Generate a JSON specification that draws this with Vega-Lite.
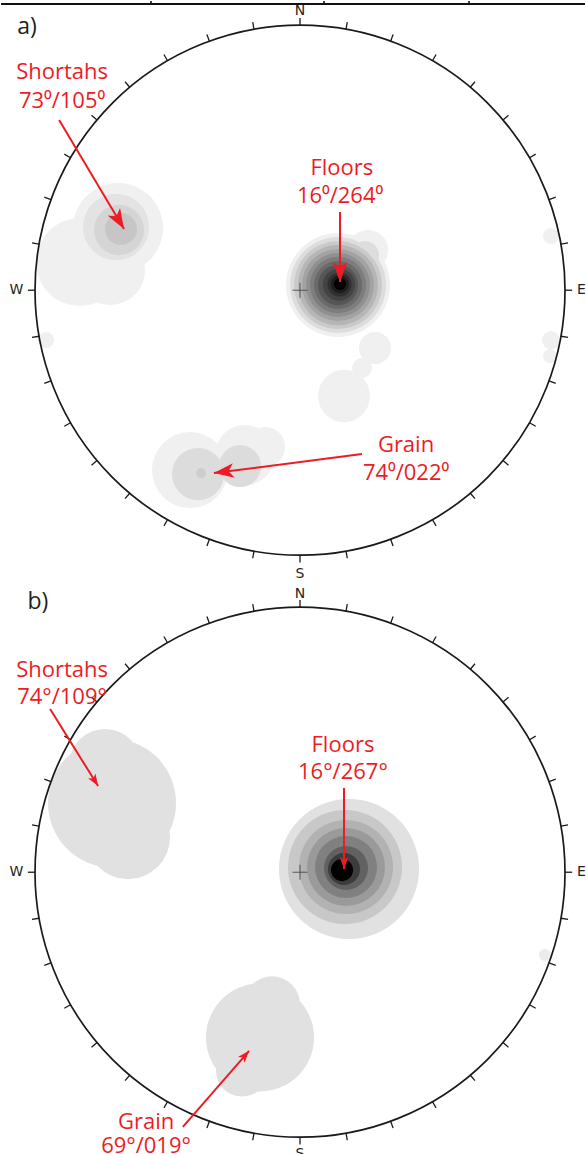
{
  "$schema": "https://vega.github.io/schema/vega-lite/v6.json",
  "padding": 0,
  "spacing": 0,
  "config": {"view": {"stroke": null}},
  "data": {"values": [
    {"panel":"a","kind":"vline","x":-0.5623,"y":1.091,"y2":1.077},
    {"panel":"a","kind":"vline","x":0.0906,"y":1.091,"y2":1.077},
    {"panel":"a","kind":"vline","x":0.6377,"y":1.091,"y2":1.077},
    {"panel":"a","kind":"hline","x":-1.128,"y":1.080,"x2":1.0755},

    {"panel":"a","kind":"blob","x":0.1434,"y":0.0196,"r":0.1962,"d":0},
    {"panel":"a","kind":"blob","x":0.2566,"y":0.1517,"r":0.0755,"d":0},
    {"panel":"a","kind":"blob","x":0.2830,"y":-0.2181,"r":0.0604,"d":0},
    {"panel":"a","kind":"blob","x":0.2340,"y":-0.2936,"r":0.0377,"d":0},
    {"panel":"a","kind":"blob","x":0.1660,"y":-0.3992,"r":0.0981,"d":0},
    {"panel":"a","kind":"blob","x":0.1434,"y":0.0196,"r":0.1811,"d":0.08},
    {"panel":"a","kind":"blob","x":0.2453,"y":0.1328,"r":0.0528,"d":0.08},
    {"panel":"a","kind":"blob","x":0.1434,"y":0.0196,"r":0.1660,"d":0.16},
    {"panel":"a","kind":"blob","x":0.1434,"y":0.0196,"r":0.1509,"d":0.24},
    {"panel":"a","kind":"blob","x":0.1434,"y":0.0196,"r":0.1358,"d":0.32},
    {"panel":"a","kind":"blob","x":0.1434,"y":0.0196,"r":0.1208,"d":0.40},
    {"panel":"a","kind":"blob","x":0.1434,"y":0.0196,"r":0.1057,"d":0.48},
    {"panel":"a","kind":"blob","x":0.1434,"y":0.0196,"r":0.0906,"d":0.56},
    {"panel":"a","kind":"blob","x":0.1434,"y":0.0196,"r":0.0755,"d":0.64},
    {"panel":"a","kind":"blob","x":0.1470,"y":0.0210,"r":0.0604,"d":0.72},
    {"panel":"a","kind":"blob","x":0.1490,"y":0.0220,"r":0.0453,"d":0.80},
    {"panel":"a","kind":"blob","x":0.1500,"y":0.0230,"r":0.0340,"d":0.88},
    {"panel":"a","kind":"blob","x":0.1509,"y":0.0234,"r":0.0226,"d":1.0},

    {"panel":"a","kind":"blob","x":-0.6868,"y":0.2347,"r":0.1698,"d":0},
    {"panel":"a","kind":"blob","x":-0.8302,"y":0.1064,"r":0.1660,"d":0},
    {"panel":"a","kind":"blob","x":-0.7170,"y":0.0762,"r":0.1321,"d":0},
    {"panel":"a","kind":"blob","x":-0.6943,"y":0.2385,"r":0.1245,"d":0.054},
    {"panel":"a","kind":"blob","x":-0.6830,"y":0.2272,"r":0.0943,"d":0.1125},
    {"panel":"a","kind":"blob","x":-0.6755,"y":0.2309,"r":0.0604,"d":0.175},

    {"panel":"a","kind":"blob","x":-0.4151,"y":-0.6785,"r":0.1434,"d":0},
    {"panel":"a","kind":"blob","x":-0.2075,"y":-0.6219,"r":0.1132,"d":0},
    {"panel":"a","kind":"blob","x":-0.1321,"y":-0.5917,"r":0.0755,"d":0},
    {"panel":"a","kind":"blob","x":-0.3849,"y":-0.6936,"r":0.0981,"d":0.083},
    {"panel":"a","kind":"blob","x":-0.2264,"y":-0.6634,"r":0.0792,"d":0.083},
    {"panel":"a","kind":"blob","x":-0.3736,"y":-0.6898,"r":0.0189,"d":0.146},

    {"panel":"a","kind":"blob","x":0.9472,"y":0.2045,"r":0.0302,"d":0},
    {"panel":"a","kind":"blob","x":0.9472,"y":-0.1879,"r":0.0340,"d":0},
    {"panel":"a","kind":"blob","x":0.9434,"y":-0.2483,"r":0.0264,"d":0},
    {"panel":"a","kind":"blob","x":-0.9585,"y":-0.1879,"r":0.0302,"d":0},

    {"panel":"b","kind":"blob","x":-0.7094,"y":0.2611,"r":0.2415,"d":0.0625},
    {"panel":"b","kind":"blob","x":-0.7358,"y":0.4045,"r":0.1358,"d":0.0625},
    {"panel":"b","kind":"blob","x":-0.6491,"y":0.1328,"r":0.1585,"d":0.0625},

    {"panel":"b","kind":"blob","x":0.1849,"y":0.0121,"r":0.2642,"d":0.0625},
    {"panel":"b","kind":"blob","x":0.1698,"y":0.0196,"r":0.2151,"d":0.167},
    {"panel":"b","kind":"blob","x":0.1736,"y":0.0196,"r":0.1774,"d":0.258},
    {"panel":"b","kind":"blob","x":0.1736,"y":0.0196,"r":0.1472,"d":0.358},
    {"panel":"b","kind":"blob","x":0.1736,"y":0.0196,"r":0.1170,"d":0.467},
    {"panel":"b","kind":"blob","x":0.1736,"y":0.0160,"r":0.0830,"d":0.596},
    {"panel":"b","kind":"blob","x":0.1660,"y":0.0121,"r":0.0604,"d":0.75},
    {"panel":"b","kind":"blob","x":0.1585,"y":0.0083,"r":0.0415,"d":1.0},

    {"panel":"b","kind":"blob","x":-0.1509,"y":-0.6234,"r":0.2038,"d":0.0625},
    {"panel":"b","kind":"blob","x":-0.1057,"y":-0.4989,"r":0.1057,"d":0.0625},
    {"panel":"b","kind":"blob","x":-0.2189,"y":-0.7479,"r":0.0981,"d":0.0625},
    {"panel":"b","kind":"blob","x":0.9245,"y":-0.3125,"r":0.0226,"d":0.02},

    {"panel":"a","kind":"frame","x":0,"y":0},
    {"panel":"b","kind":"frame","x":0,"y":0},

    {"panel":"a","kind":"card","x":0,"y":1.054,"label":"N"},
    {"panel":"a","kind":"card","x":1.062,"y":0,"label":"E"},
    {"panel":"a","kind":"card","x":0,"y":-1.071,"label":"S"},
    {"panel":"a","kind":"card","x":-1.070,"y":0,"label":"W"},
    {"panel":"b","kind":"card","x":0,"y":1.050,"label":"N"},
    {"panel":"b","kind":"card","x":1.062,"y":0,"label":"E"},
    {"panel":"b","kind":"card","x":0,"y":-1.062,"label":"S"},
    {"panel":"b","kind":"card","x":-1.070,"y":0,"label":"W"},

    {"panel":"a","kind":"tag","x":-1.030,"y":0.992,"label":"a)"},
    {"panel":"b","kind":"tag","x":-0.989,"y":1.020,"label":"b)"},

    {"panel":"a","kind":"anno","x":-0.898,"y":0.823,"label":"Shortahs"},
    {"panel":"a","kind":"anno","x":-0.898,"y":0.714,"label":"73⁰/105⁰"},
    {"panel":"a","kind":"anno","x":0.158,"y":0.461,"label":"Floors"},
    {"panel":"a","kind":"anno","x":0.151,"y":0.355,"label":"16⁰/264⁰"},
    {"panel":"a","kind":"anno","x":0.400,"y":-0.584,"label":"Grain"},
    {"panel":"a","kind":"anno","x":0.400,"y":-0.690,"label":"74⁰/022⁰"},
    {"panel":"b","kind":"anno","x":-0.898,"y":0.763,"label":"Shortahs"},
    {"panel":"b","kind":"anno","x":-0.898,"y":0.661,"label":"74°/109°"},
    {"panel":"b","kind":"anno","x":0.162,"y":0.480,"label":"Floors"},
    {"panel":"b","kind":"anno","x":0.162,"y":0.378,"label":"16°/267°"},
    {"panel":"b","kind":"anno","x":-0.581,"y":-0.943,"label":"Grain"},
    {"panel":"b","kind":"anno","x":-0.581,"y":-1.033,"label":"69°/019°"},

    {"panel":"a","kind":"arrow","x":-0.909,"y":0.642,"tx":-0.664,"ty":0.231,"dir":149.2},
    {"panel":"a","kind":"arrow","x":0.151,"y":0.295,"tx":0.151,"ty":0.031,"dir":180},
    {"panel":"a","kind":"arrow","x":0.234,"y":-0.618,"tx":-0.325,"ty":-0.690,"dir":262.7},
    {"panel":"b","kind":"arrow","x":-0.943,"y":0.616,"tx":-0.762,"ty":0.325,"dir":148.1},
    {"panel":"b","kind":"arrow","x":0.166,"y":0.318,"tx":0.166,"ty":0.012,"dir":180},
    {"panel":"b","kind":"arrow","x":-0.442,"y":-0.961,"tx":-0.192,"ty":-0.674,"dir":41.0},

    {"panel":"a","kind":"tick","x":0,"y":0,"az":0},{"panel":"a","kind":"tick","x":0,"y":0,"az":10},{"panel":"a","kind":"tick","x":0,"y":0,"az":20},{"panel":"a","kind":"tick","x":0,"y":0,"az":30},
    {"panel":"a","kind":"tick","x":0,"y":0,"az":40},{"panel":"a","kind":"tick","x":0,"y":0,"az":50},{"panel":"a","kind":"tick","x":0,"y":0,"az":60},{"panel":"a","kind":"tick","x":0,"y":0,"az":70},
    {"panel":"a","kind":"tick","x":0,"y":0,"az":80},{"panel":"a","kind":"tick","x":0,"y":0,"az":90},{"panel":"a","kind":"tick","x":0,"y":0,"az":100},{"panel":"a","kind":"tick","x":0,"y":0,"az":110},
    {"panel":"a","kind":"tick","x":0,"y":0,"az":120},{"panel":"a","kind":"tick","x":0,"y":0,"az":130},{"panel":"a","kind":"tick","x":0,"y":0,"az":140},{"panel":"a","kind":"tick","x":0,"y":0,"az":150},
    {"panel":"a","kind":"tick","x":0,"y":0,"az":160},{"panel":"a","kind":"tick","x":0,"y":0,"az":170},{"panel":"a","kind":"tick","x":0,"y":0,"az":180},{"panel":"a","kind":"tick","x":0,"y":0,"az":190},
    {"panel":"a","kind":"tick","x":0,"y":0,"az":200},{"panel":"a","kind":"tick","x":0,"y":0,"az":210},{"panel":"a","kind":"tick","x":0,"y":0,"az":220},{"panel":"a","kind":"tick","x":0,"y":0,"az":230},
    {"panel":"a","kind":"tick","x":0,"y":0,"az":240},{"panel":"a","kind":"tick","x":0,"y":0,"az":250},{"panel":"a","kind":"tick","x":0,"y":0,"az":260},{"panel":"a","kind":"tick","x":0,"y":0,"az":270},
    {"panel":"a","kind":"tick","x":0,"y":0,"az":280},{"panel":"a","kind":"tick","x":0,"y":0,"az":290},{"panel":"a","kind":"tick","x":0,"y":0,"az":300},{"panel":"a","kind":"tick","x":0,"y":0,"az":310},
    {"panel":"a","kind":"tick","x":0,"y":0,"az":320},{"panel":"a","kind":"tick","x":0,"y":0,"az":330},{"panel":"a","kind":"tick","x":0,"y":0,"az":340},{"panel":"a","kind":"tick","x":0,"y":0,"az":350},
    {"panel":"b","kind":"tick","x":0,"y":0,"az":0},{"panel":"b","kind":"tick","x":0,"y":0,"az":10},{"panel":"b","kind":"tick","x":0,"y":0,"az":20},{"panel":"b","kind":"tick","x":0,"y":0,"az":30},
    {"panel":"b","kind":"tick","x":0,"y":0,"az":40},{"panel":"b","kind":"tick","x":0,"y":0,"az":50},{"panel":"b","kind":"tick","x":0,"y":0,"az":60},{"panel":"b","kind":"tick","x":0,"y":0,"az":70},
    {"panel":"b","kind":"tick","x":0,"y":0,"az":80},{"panel":"b","kind":"tick","x":0,"y":0,"az":90},{"panel":"b","kind":"tick","x":0,"y":0,"az":100},{"panel":"b","kind":"tick","x":0,"y":0,"az":110},
    {"panel":"b","kind":"tick","x":0,"y":0,"az":120},{"panel":"b","kind":"tick","x":0,"y":0,"az":130},{"panel":"b","kind":"tick","x":0,"y":0,"az":140},{"panel":"b","kind":"tick","x":0,"y":0,"az":150},
    {"panel":"b","kind":"tick","x":0,"y":0,"az":160},{"panel":"b","kind":"tick","x":0,"y":0,"az":170},{"panel":"b","kind":"tick","x":0,"y":0,"az":180},{"panel":"b","kind":"tick","x":0,"y":0,"az":190},
    {"panel":"b","kind":"tick","x":0,"y":0,"az":200},{"panel":"b","kind":"tick","x":0,"y":0,"az":210},{"panel":"b","kind":"tick","x":0,"y":0,"az":220},{"panel":"b","kind":"tick","x":0,"y":0,"az":230},
    {"panel":"b","kind":"tick","x":0,"y":0,"az":240},{"panel":"b","kind":"tick","x":0,"y":0,"az":250},{"panel":"b","kind":"tick","x":0,"y":0,"az":260},{"panel":"b","kind":"tick","x":0,"y":0,"az":270},
    {"panel":"b","kind":"tick","x":0,"y":0,"az":280},{"panel":"b","kind":"tick","x":0,"y":0,"az":290},{"panel":"b","kind":"tick","x":0,"y":0,"az":300},{"panel":"b","kind":"tick","x":0,"y":0,"az":310},
    {"panel":"b","kind":"tick","x":0,"y":0,"az":320},{"panel":"b","kind":"tick","x":0,"y":0,"az":330},{"panel":"b","kind":"tick","x":0,"y":0,"az":340},{"panel":"b","kind":"tick","x":0,"y":0,"az":350}
  ]},
  "facet": {"row": {"field": "panel", "type": "nominal", "header": null}},
  "spec": {
    "width": 586,
    "height": 577,
    "encoding": {
      "x": {"field": "x", "type": "quantitative", "scale": {"domain": [-1.1321, 1.0792], "nice": false, "zero": false}, "axis": null},
      "y": {"field": "y", "type": "quantitative", "scale": {"domain": [-1.082, 1.095], "nice": false, "zero": false}, "axis": null}
    },
    "layer": [
      {
        "transform": [{"filter": "datum.kind === 'vline'"}],
        "mark": {"type": "rule", "stroke": "#111111", "strokeWidth": 1.6},
        "encoding": {"y2": {"field": "y2"}}
      },
      {
        "transform": [{"filter": "datum.kind === 'hline'"}],
        "mark": {"type": "rule", "stroke": "#111111", "strokeWidth": 1.8},
        "encoding": {"x2": {"field": "x2"}}
      },
      {
        "transform": [{"filter": "datum.kind === 'blob'"}],
        "mark": {"type": "point", "shape": "circle", "filled": true, "opacity": 1, "strokeWidth": 0},
        "encoding": {
          "size": {"field": "r", "type": "quantitative", "scale": {"type": "pow", "exponent": 2, "domain": [0, 1], "range": [0, 280900], "zero": true}, "legend": null},
          "fill": {"field": "d", "type": "quantitative", "scale": {"domain": [0, 1], "range": ["#f0f0f0", "#000000"], "interpolate": "rgb"}, "legend": null},
          "order": {"field": "d", "type": "quantitative"}
        }
      },
      {
        "transform": [{"filter": "datum.kind === 'tick'"}],
        "mark": {"type": "point", "shape": "M0,-1L0,-1.027", "size": 280900, "filled": false, "opacity": 1, "stroke": "#1a1a1a", "strokeWidth": 1.3},
        "encoding": {
          "angle": {"field": "az", "type": "quantitative", "scale": null}
        }
      },
      {
        "transform": [{"filter": "datum.kind === 'frame'"}],
        "mark": {"type": "point", "shape": "circle", "size": 280900, "filled": false, "opacity": 1, "stroke": "#1a1a1a", "strokeWidth": 1.7}
      },
      {
        "transform": [{"filter": "datum.kind === 'frame'"}],
        "mark": {"type": "point", "shape": "M-1,0L1,0M0,-1L0,1", "size": 225, "filled": false, "opacity": 1, "stroke": "#4a4a4a", "strokeWidth": 0.9}
      },
      {
        "transform": [{"filter": "datum.kind === 'card'"}],
        "mark": {"type": "text", "font": "DejaVu Sans", "fontSize": 14, "fill": "#231f20", "align": "center", "baseline": "middle"},
        "encoding": {"text": {"field": "label"}}
      },
      {
        "transform": [{"filter": "datum.kind === 'tag'"}],
        "mark": {"type": "text", "font": "Open Sans", "fontSize": 23, "fill": "#231f20", "align": "center", "baseline": "middle"},
        "encoding": {"text": {"field": "label"}}
      },
      {
        "transform": [{"filter": "datum.kind === 'arrow'"}],
        "mark": {"type": "rule", "stroke": "#ec1c24", "strokeWidth": 2},
        "encoding": {"x2": {"field": "tx"}, "y2": {"field": "ty"}}
      },
      {
        "transform": [{"filter": "datum.kind === 'arrow'"}],
        "mark": {"type": "point", "shape": "M0,0L0.4,1.1L0,0.82L-0.4,1.1Z", "filled": true, "opacity": 1, "fill": "#ec1c24", "strokeWidth": 0},
        "encoding": {
          "x": {"field": "tx", "type": "quantitative", "scale": {"domain": [-1.1321, 1.0792], "nice": false, "zero": false}, "axis": null},
          "y": {"field": "ty", "type": "quantitative", "scale": {"domain": [-1.082, 1.095], "nice": false, "zero": false}, "axis": null},
          "angle": {"field": "dir", "type": "quantitative", "scale": null},
          "size": {"condition": {"test": "datum.panel === 'a'", "value": 1325}, "value": 475}
        }
      },
      {
        "transform": [{"filter": "datum.kind === 'anno'"}],
        "mark": {"type": "text", "font": "Open Sans", "fontSize": 22, "fill": "#ec1c24", "align": "center", "baseline": "middle"},
        "encoding": {"text": {"field": "label"}}
      }
    ]
  }
}
